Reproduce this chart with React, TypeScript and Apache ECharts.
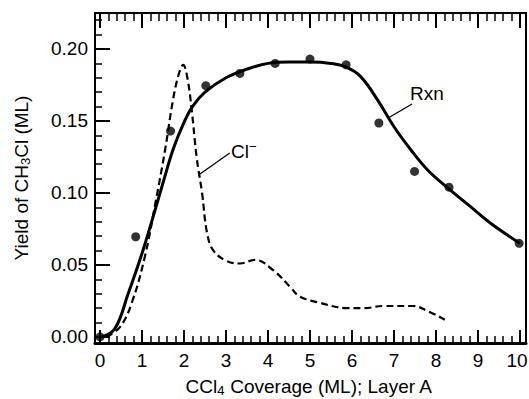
import React, { useEffect, useRef } from "react";
import * as echarts from "echarts";

// ---- axis ticks ----
const xTickValues = [0, 1, 2, 3, 4, 5, 6, 7, 8, 9, 10];
const xMinorTickValues = Array.from({ length: 51 }, (_, i) => Math.round(i * 2) / 10);
const yTickValues = [0, 0.05, 0.1, 0.15, 0.2];
const yMinorTickValues = Array.from({ length: 23 }, (_, i) => i / 100);

// ---- Rxn measured points ----
const rxnPointX = [0, 0.85, 1.68, 2.52, 3.33, 4.17, 5.0, 5.86, 6.64, 7.49, 8.31, 9.98];
const rxnPointY = [0.0, 0.0696, 0.143, 0.1745, 0.183, 0.19, 0.193, 0.189, 0.1486, 0.115, 0.104, 0.065];

// ---- Rxn fitted curve ----
const rxnFitX = [0.05, 0.36, 0.67, 1.0, 1.25, 1.5, 1.75, 2.0, 2.2, 2.5, 3.0, 3.5, 4.0, 4.5, 5.0, 5.5, 5.85, 6.2, 6.6, 7.0, 7.4, 7.8, 8.3, 8.8, 9.3, 10.0];
const rxnFitY = [0.0, 0.006, 0.03, 0.058, 0.082, 0.107, 0.131, 0.149, 0.16, 0.17, 0.18, 0.186, 0.19, 0.191, 0.191, 0.19, 0.1875, 0.181, 0.165, 0.146, 0.13, 0.116, 0.103, 0.091, 0.079, 0.065];

// ---- Cl- dashed curve ----
const clX = [0.15, 0.48, 0.76, 1.07, 1.3, 1.55, 1.74, 1.88, 1.98, 2.08, 2.19, 2.3, 2.43, 2.55, 2.7, 3.0, 3.33, 3.69, 4.12, 4.52, 4.76, 5.2, 5.9, 6.3, 6.74, 7.45, 7.8, 8.21];
const clY = [0.0, 0.007, 0.024, 0.056, 0.09, 0.13, 0.165, 0.183, 0.189, 0.18, 0.156, 0.125, 0.1, 0.072, 0.06, 0.053, 0.051, 0.0535, 0.0465, 0.035, 0.028, 0.024, 0.02, 0.02, 0.0215, 0.0215, 0.018, 0.012];

// ---- annotation anchors (data coordinates) ----
const clLabelAt = [3.12, 0.129];
const clLeader = [[2.38, 0.1132], [3.09, 0.1278]];
const rxnLabelAt = [7.38, 0.169];
const rxnLeader = [[6.86, 0.1521], [7.43, 0.1618]];

const FONT = "'Liberation Sans', Arial, Helvetica, sans-serif";
const FS = 19;

const zip = (xs: number[], ys: number[]) => xs.map((x, i) => [x, ys[i]]);

export default function App() {
  const ref = useRef<HTMLDivElement>(null);
  useEffect(() => {
    const chart = echarts.init(ref.current!, null, { renderer: "svg" });
    const xMin = -0.119;
    const xMax = 10.143;
    const yMin = -0.0042;
    const yMax = 0.225;
    const labelStyle = { color: "#000", fontSize: FS, fontFamily: FONT };
    const baseX = (extra: any) => ({
      type: "value",
      min: xMin,
      max: xMax,
      splitLine: { show: false },
      axisLine: { show: false, onZero: false },
      axisLabel: { show: false },
      ...extra,
    });
    const baseY = (extra: any) => ({
      type: "value",
      min: yMin,
      max: yMax,
      splitLine: { show: false },
      axisLine: { show: false, onZero: false },
      axisLabel: { show: false },
      ...extra,
    });
    chart.setOption({
      animation: false,
      backgroundColor: "#fff",
      grid: {
        left: 95,
        top: 13,
        right: 3,
        bottom: 56,
        show: true,
        borderColor: "#000",
        borderWidth: 2,
        outerBoundsMode: "none",
        containLabel: false,
      },
      xAxis: [
        baseX({
          position: "bottom",
          axisLine: { show: true, onZero: false, lineStyle: { color: "#000", width: 3 } },
          axisTick: { show: true, inside: true, length: 13, customValues: xTickValues, lineStyle: { color: "#000", width: 2 } },
          axisLabel: {
            show: true,
            customValues: xTickValues,
            margin: 8,
            formatter: (v: number) => (v >= 10 ? "{r|" + v + "}" : String(v)),
            rich: { r: { color: "#000", fontSize: FS, fontFamily: FONT, padding: [0, 6, 0, 0] } },
            ...labelStyle,
          },
        }),
        baseX({
          position: "bottom",
          axisTick: { show: true, inside: true, length: 7, customValues: xMinorTickValues, lineStyle: { color: "#000", width: 1.5 } },
        }),
        baseX({
          position: "top",
          axisTick: { show: true, inside: true, length: 15, customValues: xTickValues, lineStyle: { color: "#000", width: 2 } },
        }),
        baseX({
          position: "top",
          axisTick: { show: true, inside: true, length: 8, customValues: xMinorTickValues, lineStyle: { color: "#000", width: 1.5 } },
        }),
      ],
      yAxis: [
        baseY({
          position: "left",
          axisTick: { show: true, inside: true, length: 15, customValues: yTickValues, lineStyle: { color: "#000", width: 2 } },
          axisLabel: {
            show: true,
            customValues: yTickValues,
            margin: 7,
            formatter: (v: number) => v.toFixed(2),
            ...labelStyle,
          },
        }),
        baseY({
          position: "left",
          axisTick: { show: true, inside: true, length: 7, customValues: yMinorTickValues, lineStyle: { color: "#000", width: 1.5 } },
        }),
      ],
      series: [
        {
          name: "Rxn fit",
          type: "line",
          xAxisIndex: 0,
          yAxisIndex: 0,
          data: zip(rxnFitX, rxnFitY),
          smooth: 0.4,
          showSymbol: false,
          lineStyle: { color: "#000", width: 3 },
          z: 3,
        },
        {
          name: "Cl-",
          type: "line",
          xAxisIndex: 0,
          yAxisIndex: 0,
          data: zip(clX, clY),
          smooth: 0.4,
          showSymbol: false,
          lineStyle: { color: "#000", width: 2.2, type: [7, 4] },
          z: 2,
        },
        {
          name: "Rxn",
          type: "scatter",
          xAxisIndex: 0,
          yAxisIndex: 0,
          data: zip(rxnPointX, rxnPointY),
          symbol: "circle",
          symbolSize: 9,
          itemStyle: { color: "#000" },
          z: 4,
        },
      ],
    });

    const px = (p: number[]) => chart.convertToPixel({ seriesIndex: 0 }, p) as number[];
    const clL = px(clLabelAt);
    const clA = px(clLeader[0]);
    const clB = px(clLeader[1]);
    const rxL = px(rxnLabelAt);
    const rxA = px(rxnLeader[0]);
    const rxB = px(rxnLeader[1]);

    const richMain = { fontSize: FS, fontFamily: FONT, fill: "#000", lineHeight: 22 };
    const richSub = { fontSize: 13, fontFamily: FONT, fill: "#000", lineHeight: 13, verticalAlign: "bottom" };
    const richSup = { fontSize: 13, fontFamily: FONT, fill: "#000", lineHeight: 13, verticalAlign: "top" };

    chart.setOption({
      graphic: [
        {
          type: "text",
          x: 21,
          y: 178,
          rotation: Math.PI / 2,
          style: {
            text: "{a|Yield of CH}{s|3}{a|Cl (ML)}",
            rich: { a: richMain, s: richSub },
            align: "center",
            verticalAlign: "middle",
          },
        },
        {
          type: "text",
          x: 309,
          y: 386,
          style: {
            text: "{a|CCl}{s|4}{a| Coverage (ML); Layer A}",
            rich: { a: richMain, s: richSub },
            align: "center",
            verticalAlign: "middle",
          },
        },
        {
          type: "text",
          x: clL[0],
          y: clL[1],
          style: {
            text: "{a|Cl}{p|\u2212}",
            rich: { a: richMain, p: richSup },
            align: "left",
            verticalAlign: "middle",
          },
        },
        {
          type: "line",
          shape: { x1: clA[0], y1: clA[1], x2: clB[0], y2: clB[1] },
          style: { stroke: "#000", lineWidth: 1.3 },
        },
        {
          type: "text",
          x: rxL[0],
          y: rxL[1],
          style: {
            text: "{a|Rxn}",
            rich: { a: richMain },
            align: "left",
            verticalAlign: "middle",
          },
        },
        {
          type: "line",
          shape: { x1: rxA[0], y1: rxA[1], x2: rxB[0], y2: rxB[1] },
          style: { stroke: "#000", lineWidth: 1.3 },
        },
      ],
    });

    return () => chart.dispose();
  }, []);
  return (
    <div
      ref={ref}
      style={{ position: "fixed", left: 0, top: 0, width: 529, height: 399, background: "#fff" }}
    />
  );
}
